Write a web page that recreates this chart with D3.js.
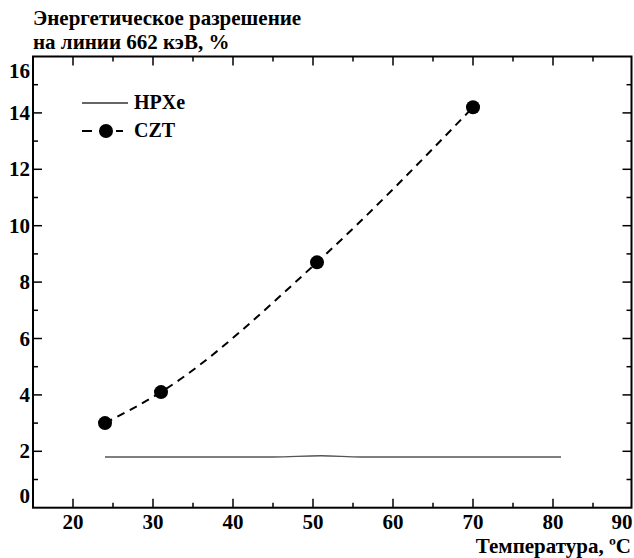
<!DOCTYPE html>
<html>
<head>
<meta charset="utf-8">
<script src="https://cdn.jsdelivr.net/npm/d3@7"></script>
<style>
  body { margin: 0; background: #fff; }
  svg text { font-family: "Liberation Serif", "DejaVu Serif", serif; font-weight: bold; fill: #000; }
</style>
</head>
<body>
<div id="chart"></div>
<script>
// Chart data
var cztTemp = [24, 31, 50.5, 70];
var cztRes = [3.0, 4.1, 8.7, 14.2];

var hpxeTemp = [24, 30, 40, 45, 51, 56, 60, 70, 81];
var hpxeRes = [1.8, 1.8, 1.8, 1.8, 1.84, 1.8, 1.8, 1.8, 1.8];

var xTicks = [20, 30, 40, 50, 60, 70, 80, 90];
var yTicks = [0, 2, 4, 6, 8, 10, 12, 14, 16];

var seriesNames = ["HPXe", "CZT"];
var titleLines = ["Энергетическое разрешение", "на линии 662 кэВ, %"];
var xTitle = "Температура, ºC";

// SVG area
var svgWidth = 634;
var svgHeight = 558;
var serif = "'Liberation Serif', 'DejaVu Serif', serif";

var plotLeft = 33, plotRight = 633, plotTop = 56.5, plotBottom = 507.7;

var svg = d3.select("#chart")
  .append("svg")
  .attr("width", svgWidth)
  .attr("height", svgHeight)
  .attr("font-family", serif);

var x = d3.scaleLinear().domain([15, 90]).range([plotLeft, plotRight]);
var y = d3.scaleLinear().domain([0, 16]).range([plotBottom, plotTop]);

// frame
svg.append("rect")
  .attr("x", plotLeft)
  .attr("y", plotTop)
  .attr("width", plotRight - plotLeft - 1.5)
  .attr("height", plotBottom - plotTop)
  .attr("fill", "none")
  .attr("stroke", "#000")
  .attr("stroke-width", 2);

// inward ticks on all four sides
var xMinor = d3.range(15, 91, 5).filter(d => xTicks.indexOf(d) < 0);
var yMinor = d3.range(1, 16, 2);

function addXTicks(vals, len) {
  vals.forEach(function(v) {
    if (v <= 15 || v >= 90) return;
    svg.append("line").attr("x1", x(v)).attr("x2", x(v))
      .attr("y1", plotBottom).attr("y2", plotBottom - len)
      .attr("stroke", "#000").attr("stroke-width", 1.5);
    svg.append("line").attr("x1", x(v)).attr("x2", x(v))
      .attr("y1", plotTop).attr("y2", plotTop + len)
      .attr("stroke", "#000").attr("stroke-width", 1.5);
  });
}
function addYTicks(vals, len) {
  vals.forEach(function(v) {
    if (v <= 0 || v >= 16) return;
    svg.append("line").attr("x1", plotLeft).attr("x2", plotLeft + len)
      .attr("y1", y(v)).attr("y2", y(v))
      .attr("stroke", "#000").attr("stroke-width", 1.5);
    svg.append("line").attr("x1", plotRight - 1.5).attr("x2", plotRight - 1.5 - len)
      .attr("y1", y(v)).attr("y2", y(v))
      .attr("stroke", "#000").attr("stroke-width", 1.5);
  });
}
addXTicks(xTicks, 9);
addXTicks(xMinor, 5);
addYTicks(yTicks, 9);
addYTicks(yMinor, 5);

// tick labels
svg.selectAll(".xlab")
  .data(xTicks)
  .enter()
  .append("text")
  .attr("x", d => d === 90 ? x(d) - 11 : x(d))
  .attr("y", plotBottom + 21)
  .attr("text-anchor", "middle")
  .attr("font-family", serif)
  .style("font-size", "21px")
  .text(d => d);

svg.selectAll(".ylab")
  .data(yTicks)
  .enter()
  .append("text")
  .attr("x", plotLeft - 3)
  .attr("y", function(d) {
    var p = y(d) + 7;
    if (d === 16) p += 14;
    if (d === 0) p -= 12;
    return p;
  })
  .attr("text-anchor", "end")
  .attr("font-family", serif)
  .style("font-size", "21px")
  .text(d => d);

// titles
svg.selectAll(".title")
  .data(titleLines)
  .enter()
  .append("text")
  .attr("x", 33)
  .attr("y", (d, i) => 25 + i * 24)
  .attr("font-family", serif)
  .style("font-size", "21px")
  .text(d => d);

svg.append("text")
  .attr("x", 631)
  .attr("y", 553)
  .attr("text-anchor", "end")
  .attr("font-family", serif)
  .style("font-size", "21px")
  .text(xTitle);

// HPXe line
var hpxeData = hpxeTemp.map((t, i) => [t, hpxeRes[i]]);
svg.append("path")
  .datum(hpxeData)
  .attr("fill", "none")
  .attr("stroke", "#555")
  .attr("stroke-width", 1.4)
  .attr("d", d3.line().x(d => x(d[0])).y(d => y(d[1])).curve(d3.curveMonotoneX));

// CZT dashed curve + points
var cztData = cztTemp.map((t, i) => [t, cztRes[i]]);
svg.append("path")
  .datum(cztData)
  .attr("fill", "none")
  .attr("stroke", "#000")
  .attr("stroke-width", 2)
  .attr("stroke-dasharray", "8,6")
  .attr("d", d3.line().x(d => x(d[0])).y(d => y(d[1])).curve(d3.curveMonotoneX));

svg.selectAll(".czt")
  .data(cztData)
  .enter()
  .append("circle")
  .attr("cx", d => x(d[0]))
  .attr("cy", d => y(d[1]))
  .attr("r", 7)
  .attr("fill", "#000");

// legend
var legend = svg.append("g");
legend.append("line")
  .attr("x1", 82).attr("x2", 128).attr("y1", 103).attr("y2", 103)
  .attr("stroke", "#333").attr("stroke-width", 1.3);
legend.append("line")
  .attr("x1", 82).attr("x2", 123).attr("y1", 131).attr("y2", 131)
  .attr("stroke", "#000").attr("stroke-width", 2)
  .attr("stroke-dasharray", "10,7");
legend.append("circle")
  .attr("cx", 106).attr("cy", 131).attr("r", 7).attr("fill", "#000");
legend.selectAll("text")
  .data(seriesNames)
  .enter()
  .append("text")
  .attr("x", 134)
  .attr("y", (d, i) => 109 + i * 28)
  .attr("font-family", serif)
  .style("font-size", "20px")
  .text(d => d);
</script>
</body>
</html>
